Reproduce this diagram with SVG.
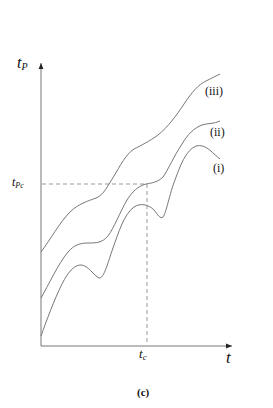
<svg xmlns="http://www.w3.org/2000/svg" width="273" height="408" viewBox="0 0 273 408">
<defs>
<style>
.curve{fill:none;stroke:#777;stroke-width:1}
.axis{fill:none;stroke:#777;stroke-width:1}
.dash{fill:none;stroke:#999;stroke-width:1;stroke-dasharray:4,3}
.lbl{font-family:"Liberation Serif","DejaVu Serif",serif;font-size:12px;fill:#111}
.it{font-family:"Liberation Serif","DejaVu Serif",serif;font-style:italic;fill:#111}
.cap{font-family:"Liberation Serif","DejaVu Serif",serif;font-weight:bold;font-size:11px;fill:#111}
</style>
<marker id="ah" viewBox="0 0 10 10" refX="10" refY="5" markerWidth="8" markerHeight="6" orient="auto" markerUnits="userSpaceOnUse">
<path d="M0,1 L10,5 L0,9 Z" fill="#222"/>
</marker>
</defs>
<rect width="273" height="408" fill="#fff"/>
<g id="connectors">
<line class="axis" x1="41" y1="346" x2="41" y2="63" marker-end="url(#ah)"/>
<line class="axis" x1="41" y1="346" x2="232" y2="346" marker-end="url(#ah)"/>
<line class="dash" x1="42" y1="184" x2="147" y2="184"/>
<line class="dash" x1="147" y1="184" x2="147" y2="345"/>
</g>
<g id="curve-iii">
<path class="curve" d="M41,252 C50,240 60,222 70,212 C78,204 88,201 96,198 C104,195 108,185 114,176 C120,166 126,154 134,149 C140,146 150,141 158,135 C168,127 176,116 184,104 C192,92 198,85 206,81 C212,78 216,76 220,74"/>
<text class="lbl" x="205" y="95">(iii)</text>
</g>
<g id="curve-ii">
<path class="curve" d="M41,298 C48,286 58,264 68,252 C74,245 80,243 88,243 C96,243 102,243 108,236 C114,228 120,212 127,200 C132,192 138,186 146,184 C152,183 158,182 163,177 C168,170 174,156 182,144 C188,134 194,128 202,125 C208,123 214,124 220,121"/>
<text class="lbl" x="210" y="136">(ii)</text>
</g>
<g id="curve-i">
<path class="curve" d="M41,336 C46,322 54,300 62,284 C68,272 74,265 81,265 C88,265 94,276 99,278 C104,279 108,262 113,248 C118,234 124,214 134,207 C140,203 148,204 154,210 C158,215 160,219 163,217 C166,214 170,192 175,180 C180,166 186,150 196,146 C206,143 214,155 220,159"/>
<text class="lbl" x="213" y="172">(i)</text>
</g>
<g id="labels">
<text class="it" x="17" y="68" font-size="16">t<tspan font-size="10" dy="2">P</tspan></text>
<text class="it" x="12" y="186" font-size="12">t<tspan font-size="8" dy="2">Pc</tspan></text>
<text class="it" x="139" y="358" font-size="13">t<tspan font-size="9" dy="2">c</tspan></text>
<text class="it" x="226" y="363" font-size="17">t</text>
<text class="cap" x="137" y="396">(c)</text>
</g>
</svg>
